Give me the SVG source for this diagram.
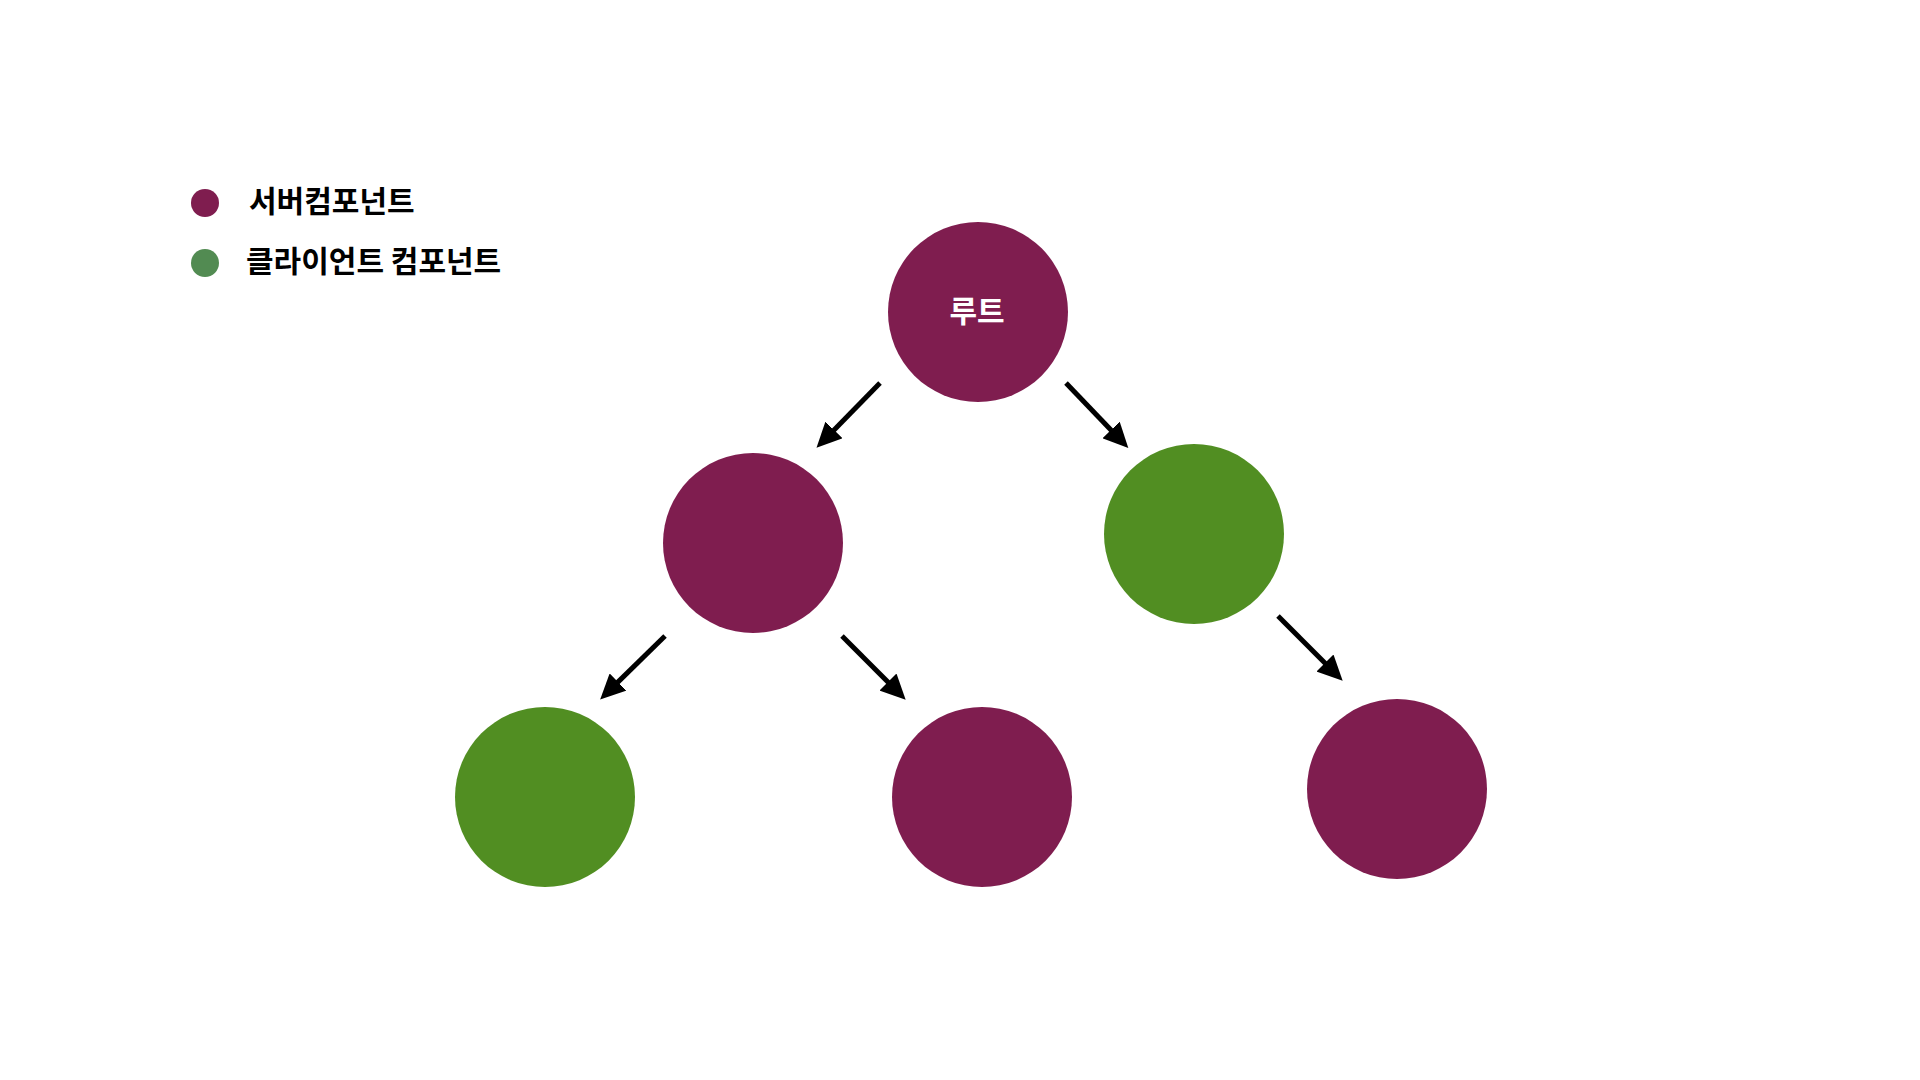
<svg xmlns="http://www.w3.org/2000/svg" width="1920" height="1080" viewBox="0 0 1920 1080">
<style>
.server{fill:#7F1D4F}
.client{fill:#518E22}
.legtext{font-family:"Noto Sans CJK KR","Noto Sans",sans-serif;font-weight:700;font-size:30px;fill:#000}
.label{font-family:"Noto Sans CJK KR","Noto Sans",sans-serif;font-weight:700;font-size:30px;fill:#fff}
.conn{stroke:#000;stroke-width:5;fill:none}
</style>
<defs>
<marker id="ah" markerUnits="userSpaceOnUse" markerWidth="26" markerHeight="24" refX="2" refY="12" orient="auto">
<path d="M0,0 L25,12 L0,24 z" fill="#000"/>
</marker>
</defs>
<rect width="1920" height="1080" fill="#fff"/>
<g id="legend">
<circle cx="205" cy="203" r="14" class="server"/>
<text x="249" y="212" class="legtext">서버컴포넌트</text>
<circle cx="205" cy="263" r="14" fill="#528B52"/>
<text x="246" y="272" class="legtext">클라이언트 컴포넌트</text>
</g>
<g id="connectors">
<line x1="880" y1="383" x2="832.6" y2="431.4" class="conn" marker-end="url(#ah)"/>
<line x1="1066" y1="383" x2="1112.4" y2="431.4" class="conn" marker-end="url(#ah)"/>
<line x1="665" y1="636" x2="616.6" y2="683.4" class="conn" marker-end="url(#ah)"/>
<line x1="842" y1="636" x2="889.4" y2="683.4" class="conn" marker-end="url(#ah)"/>
<line x1="1278" y1="616" x2="1326.4" y2="664.4" class="conn" marker-end="url(#ah)"/>
</g>
<g id="root">
<circle cx="978" cy="312" r="90" class="server"/>
<text x="977" y="322" text-anchor="middle" class="label">루트</text>
</g>
<g id="node-left"><circle cx="753" cy="543" r="90" class="server"/></g>
<g id="node-right"><circle cx="1194" cy="534" r="90" class="client"/></g>
<g id="node-ll"><circle cx="545" cy="797" r="90" class="client"/></g>
<g id="node-lr"><circle cx="982" cy="797" r="90" class="server"/></g>
<g id="node-rr"><circle cx="1397" cy="789" r="90" class="server"/></g>
</svg>
